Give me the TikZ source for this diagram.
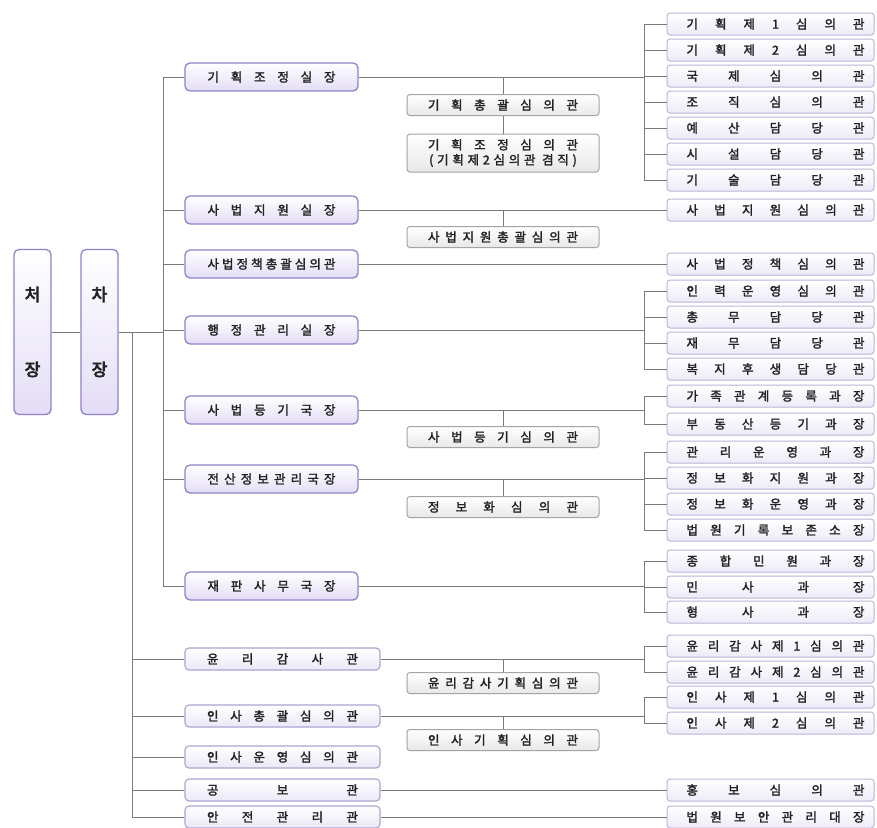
\documentclass[tikz,border=0pt]{standalone}
\usepackage{fontspec}
\newfontfamily\kr{Noto Sans CJK KR}[FakeBold=2]
\newfontfamily\krb{Noto Sans CJK KR}[FakeBold=4]
\newfontfamily\krls{Noto Sans CJK KR}[FakeBold=2, LetterSpace=30]
\makeatletter
\newcommand\spreadit[2]{\hbox to #1{\def\sepx{}\@tfor\chx:=#2\do{\sepx\chx\def\sepx{\hfill}}}}
\makeatother
\definecolor{linec}{HTML}{7A7A7A}
\definecolor{lborder}{HTML}{8E84C8}
\definecolor{lfill}{HTML}{E4DDF6}
\definecolor{wborder}{HTML}{ACA4D0}
\definecolor{wfill}{HTML}{ECE8F8}
\definecolor{cborder}{HTML}{A4A4A4}
\definecolor{cfill}{HTML}{E8E8E8}
\definecolor{rborder}{HTML}{BDB5DA}
\definecolor{rfill}{HTML}{EEEAF8}
\definecolor{txt}{HTML}{222222}
\tikzset{
  conn/.style={draw=linec, line width=1pt},
  basebox/.style={rectangle, inner sep=0pt, text=txt, font=\kr\fontsize{12.5}{14}\selectfont},
  chiefbox/.style={basebox, rounded corners=5pt, draw=lborder, line width=1.3pt, top color=white, bottom color=lfill, minimum width=37pt, minimum height=165pt, align=center, font=\krb\fontsize{17}{20}\selectfont},
  lbox/.style={basebox, rounded corners=5pt, draw=lborder, line width=1.3pt, top color=white, bottom color=lfill, minimum width=173pt, minimum height=28pt},
  wbox/.style={basebox, rounded corners=4pt, draw=wborder, line width=1.1pt, top color=white, bottom color=wfill, minimum width=195pt, minimum height=22pt},
  cbox/.style={basebox, rounded corners=3pt, draw=cborder, line width=1pt, top color=white, bottom color=cfill, minimum width=192pt, minimum height=21pt},
  rbox/.style={basebox, rounded corners=3pt, draw=rborder, line width=1pt, top color=white, bottom color=rfill, minimum width=207pt, minimum height=22pt},
}
\newcommand\rt[1]{\hspace*{10pt}\spreadit{178pt}{#1}}
\begin{document}
\begin{tikzpicture}[x=1pt,y=-1pt]
\useasboundingbox[fill=white] (0,0) rectangle (877,827);
% chiefs
\node[chiefbox] (cj) at (32.5,332) {처\\[55pt]장};
\node[chiefbox] (cha) at (99.5,332) {차\\[55pt]장};
% left column
\node[lbox] (L1) at (271.5,77) {\spreadit{128pt}{기획조정실장}};
\node[lbox] (L2) at (271.5,210) {\spreadit{128pt}{사법지원실장}};
\node[lbox] (L3) at (271.5,264) {\spreadit{128pt}{사법정책총괄심의관}};
\node[lbox] (L4) at (271.5,330) {\spreadit{128pt}{행정관리실장}};
\node[lbox] (L5) at (271.5,410) {\spreadit{128pt}{사법등기국장}};
\node[lbox] (L6) at (271.5,479) {\spreadit{128pt}{전산정보관리국장}};
\node[lbox] (L7) at (271.5,586) {\spreadit{128pt}{재판사무국장}};
% lower column
\node[wbox] (M1) at (282.5,659) {\spreadit{151pt}{윤리감사관}};
\node[wbox] (M2) at (282.5,716) {\spreadit{151pt}{인사총괄심의관}};
\node[wbox] (M3) at (282.5,757) {\spreadit{151pt}{인사운영심의관}};
\node[wbox] (M4) at (282.5,790) {\spreadit{151pt}{공보관}};
\node[wbox] (M5) at (282.5,817) {\spreadit{151pt}{안전관리관}};
% middle column
\node[cbox] (C1) at (503,105) {\spreadit{150pt}{기획총괄심의관}};
\node[cbox, minimum height=38pt, align=center] (C2) at (503,153) {\spreadit{150pt}{기획조정심의관}\\[1pt]{\krls(기획제2심의관 겸직)}};
\node[cbox] (C3) at (503,237) {\spreadit{150pt}{사법지원총괄심의관}};
\node[cbox] (C4) at (503,437) {\spreadit{150pt}{사법등기심의관}};
\node[cbox] (C5) at (503,507) {\spreadit{150pt}{정보화심의관}};
\node[cbox] (C6) at (503,683) {\spreadit{150pt}{윤리감사기획심의관}};
\node[cbox] (C7) at (503,740) {\spreadit{150pt}{인사기획심의관}};
% right column
\node[rbox] (R1) at (770.5,24) {\rt{기획제1심의관}};
\node[rbox] (R2) at (770.5,50) {\rt{기획제2심의관}};
\node[rbox] (R3) at (770.5,76) {\rt{국제심의관}};
\node[rbox] (R4) at (770.5,102) {\rt{조직심의관}};
\node[rbox] (R5) at (770.5,128) {\rt{예산담당관}};
\node[rbox] (R6) at (770.5,154) {\rt{시설담당관}};
\node[rbox] (R7) at (770.5,180) {\rt{기술담당관}};
\node[rbox] (R8) at (770.5,210) {\rt{사법지원심의관}};
\node[rbox] (R9) at (770.5,264) {\rt{사법정책심의관}};
\node[rbox] (R10) at (770.5,291) {\rt{인력운영심의관}};
\node[rbox] (R11) at (770.5,317) {\rt{총무담당관}};
\node[rbox] (R12) at (770.5,343) {\rt{재무담당관}};
\node[rbox] (R13) at (770.5,369) {\rt{복지후생담당관}};
\node[rbox] (R14) at (770.5,396) {\rt{가족관계등록과장}};
\node[rbox] (R15) at (770.5,424) {\rt{부동산등기과장}};
\node[rbox] (R16) at (770.5,452) {\rt{관리운영과장}};
\node[rbox] (R17) at (770.5,478) {\rt{정보화지원과장}};
\node[rbox] (R18) at (770.5,504) {\rt{정보화운영과장}};
\node[rbox] (R19) at (770.5,530) {\rt{법원기록보존소장}};
\node[rbox] (R20) at (770.5,561) {\rt{종합민원과장}};
\node[rbox] (R21) at (770.5,587) {\rt{민사과장}};
\node[rbox] (R22) at (770.5,612) {\rt{형사과장}};
\node[rbox] (R23) at (770.5,646) {\rt{윤리감사제1심의관}};
\node[rbox] (R24) at (770.5,672) {\rt{윤리감사제2심의관}};
\node[rbox] (R25) at (770.5,697) {\rt{인사제1심의관}};
\node[rbox] (R26) at (770.5,723) {\rt{인사제2심의관}};
\node[rbox] (R27) at (770.5,790) {\rt{홍보심의관}};
\node[rbox] (R28) at (770.5,817) {\rt{법원보안관리대장}};
% trunk coordinates
\coordinate (vx) at (163,0);
\coordinate (wx) at (132,0);
\coordinate (bx) at (644,0);
% connectors: chiefs and trunks
\draw[conn] (cj) -- (cha);
\draw[conn] (cha.east) -- (cha.east -| vx);
\draw[conn] (L1.west -| vx) -- (L7.west -| vx);
\foreach \n in {L1,L2,L3,L4,L5,L6,L7} \draw[conn] (\n.west) -- (\n.west -| vx);
\draw[conn] (cha.east -| wx) -- (M5.west -| wx);
\foreach \n in {M1,M2,M3,M4,M5} \draw[conn] (\n.west) -- (\n.west -| wx);
% brackets to right column
\foreach \L/\a/\b in {L1/R1/R7, L4/R10/R13, L5/R14/R15, L6/R16/R19, L7/R20/R22, M1/R23/R24, M2/R25/R26}{
  \draw[conn] (\L.east) -- (\L.east -| bx);
  \draw[conn] (\a.west -| bx) -- (\b.west -| bx);
}
\foreach \i in {1,2,3,4,5,6,7,10,11,12,13,14,15,16,17,18,19,20,21,22,23,24,25,26}
  \draw[conn] (R\i.west) -- (R\i.west -| bx);
\draw[conn] (L2.east) -- (R8.west);
\draw[conn] (L3.east) -- (R9.west);
\draw[conn] (M4.east) -- (R27.west);
\draw[conn] (M5.east) -- (R28.west);
% middle drops
\draw[conn] (C1.north) -- (C1.north |- L1.east);
\draw[conn] (C1) -- (C2);
\draw[conn] (C3.north) -- (C3.north |- L2.east);
\draw[conn] (C4.north) -- (C4.north |- L5.east);
\draw[conn] (C5.north) -- (C5.north |- L6.east);
\draw[conn] (C6.north) -- (C6.north |- M1.east);
\draw[conn] (C7.north) -- (C7.north |- M2.east);
\end{tikzpicture}
\end{document}
